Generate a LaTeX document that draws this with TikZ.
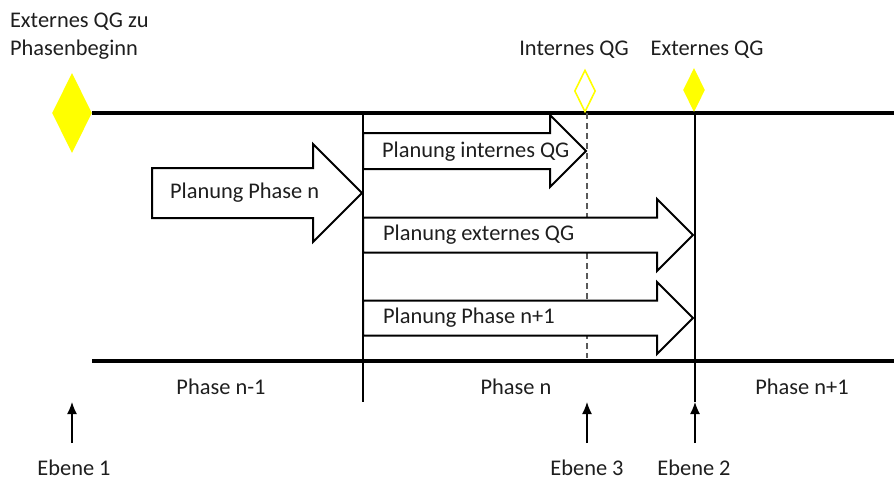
\documentclass[tikz,border=0pt]{standalone}
\usepackage{fontspec}
\setmainfont{Carlito}
\usetikzlibrary{shapes.geometric,arrows.meta}
\definecolor{qgyellow}{HTML}{FFFF00}
\definecolor{textgray}{HTML}{1E1E1E}
\definecolor{dashgray}{HTML}{595959}

% Blockpfeil: x-start, x-kopf, x-spitze, y-mitte, halbe schaftdicke, halbe kopfhoehe
\newcommand{\blockpfeil}[6]{%
  \draw[pfeilrand] (#1,#4-#5) -- (#2,#4-#5) -- (#2,#4-#6) -- (#3,#4)
    -- (#2,#4+#6) -- (#2,#4+#5) -- (#1,#4+#5) -- cycle;}

\begin{document}
\begin{tikzpicture}[x=0.5pt,y=-0.5pt,
  every node/.style={font=\fontsize{11.2}{14}\selectfont,text=textgray},
  zeitachse/.style={line width=2.2pt,black},
  trennlinie/.style={line width=0.65pt,black},
  pfeilrand/.style={line width=1pt,black,fill=white,line join=miter},
  ebenepfeil/.style={line width=0.65pt,-{Latex[length=6pt,width=5pt]}}]
\useasboundingbox (0,0) rectangle (894,479);

% Qualitaetsgates
\node[diamond,fill=qgyellow,minimum width=20pt,minimum height=40pt,inner sep=0pt] (qg0) at (72,113) {};
\node[anchor=west,align=left] (qg0text) at (3,36) {Externes QG zu\\Phasenbeginn};

% Zeitachsen
\draw[zeitachse] (qg0.east) -- (894,113);
\draw[zeitachse] (92,361) -- (894,361);

% Phasengrenzen
\draw[trennlinie] (363,113) -- (363,402);
\draw[trennlinie] (695,113) -- (695,402);
\draw[line width=0.8pt,dashgray,dash pattern=on 3pt off 2pt] (587,113) -- (587,358);

\node[diamond,draw=qgyellow,line width=0.8pt,fill=white,minimum width=10.5pt,minimum height=21pt,inner sep=0pt] (qgint) at (585,91) {};
\node[diamond,fill=qgyellow,minimum width=11pt,minimum height=22pt,inner sep=0pt] (qgext) at (694,90) {};
\node (qginttext) at (574,50) {Internes QG};
\node (qgexttext) at (707,50) {Externes QG};

% Planungspfeile
\blockpfeil{152}{313}{362}{193}{25}{49}
\node[anchor=west] (planphase) at (163,193) {Planung Phase n};
\blockpfeil{363}{550}{586}{151}{18}{36}
\node[anchor=west] (planint) at (375,152) {Planung internes QG};
\blockpfeil{363}{657}{693}{235}{17.5}{36}
\node[anchor=west] (planext) at (376,235) {Planung externes QG};
\blockpfeil{363}{657}{693}{318}{17.5}{36}
\node[anchor=west] (plannext) at (376,318) {Planung Phase n+1};

% Phasen
\node (phasevor) at (221,387) {Phase n-1};
\node (phase) at (516,387) {Phase n};
\node (phasenach) at (802,387) {Phase n+1};

% Ebenen
\node (ebene1) at (74,468) {Ebene 1};
\node (ebene3) at (587,468) {Ebene 3};
\node (ebene2) at (694,468) {Ebene 2};
\coordinate (e1fuss) at (72,443);
\coordinate (e1spitze) at (72,402);
\coordinate (e3fuss) at (587,443);
\coordinate (e3spitze) at (587,402);
\coordinate (e2fuss) at (695,443);
\coordinate (e2spitze) at (695,402);
\draw[ebenepfeil] (e1fuss) -- (e1spitze);
\draw[ebenepfeil] (e3fuss) -- (e3spitze);
\draw[ebenepfeil] (e2fuss) -- (e2spitze);
\end{tikzpicture}
\end{document}
